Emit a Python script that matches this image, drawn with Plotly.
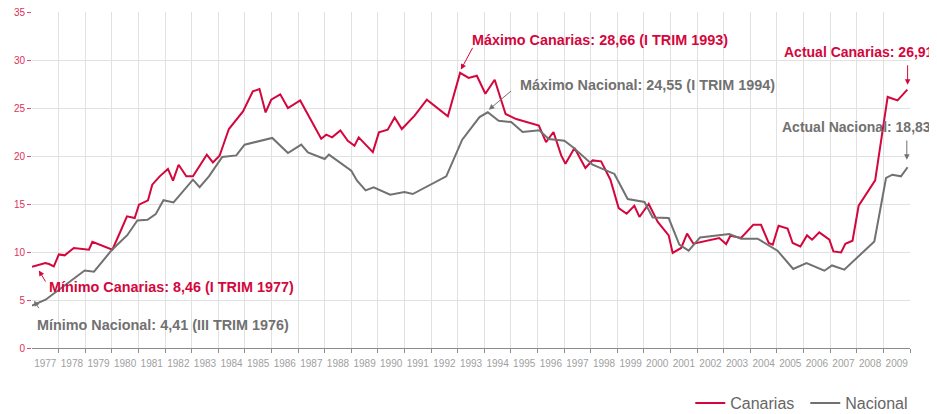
import plotly.graph_objects as go

# ---- data (decimal year, value in %) ----
canarias_t = [1977.00, 1977.29, 1977.50, 1977.64, 1977.82, 1978.01, 1978.23, 1978.57, 1978.88, 1979.14,
              1979.27, 1980.02, 1980.27, 1980.57, 1980.86, 1981.02, 1981.36, 1981.52, 1981.80, 1982.11,
              1982.30, 1982.51, 1982.80, 1983.05, 1983.57, 1983.80, 1984.05, 1984.40, 1984.93, 1985.30,
              1985.55, 1985.78, 1985.99, 1986.33, 1986.62, 1987.08, 1987.87, 1988.06, 1988.28, 1988.59,
              1988.87, 1989.12, 1989.28, 1989.81, 1990.04, 1990.37, 1990.63, 1990.90, 1991.38, 1991.84,
              1992.63, 1993.09, 1993.41, 1993.72, 1994.04, 1994.39, 1994.80, 1995.20, 1996.05, 1996.32,
              1996.60, 1996.89, 1997.05, 1997.39, 1997.80, 1998.07, 1998.39, 1998.74, 1999.05, 1999.35,
              1999.64, 1999.83, 2000.18, 2000.52, 2000.93, 2001.08, 2001.40, 2001.62, 2001.86, 2002.83,
              2003.09, 2003.25, 2003.65, 2004.11, 2004.40, 2004.69, 2004.84, 2005.06, 2005.40, 2005.59,
              2005.88, 2006.13, 2006.32, 2006.59, 2006.97, 2007.12, 2007.41, 2007.57, 2007.84, 2008.07,
              2008.69, 2009.16, 2009.53, 2009.90]
canarias_v = [8.46, 8.65, 8.85, 8.75, 8.50, 9.75, 9.65, 10.42, 10.31, 10.24,
              11.07, 10.24, 11.80, 13.71, 13.54, 14.93, 15.38, 17.01, 17.88, 18.65,
              17.43, 19.09, 17.88, 17.88, 20.14, 19.33, 20.03, 22.81, 24.65, 26.73,
              26.98, 24.54, 25.86, 26.42, 25.00, 25.79, 21.80, 22.22, 21.94, 22.67,
              21.59, 21.07, 21.94, 20.40, 22.46, 22.74, 24.02, 22.81, 24.20, 25.86,
              24.13, 28.66, 28.13, 28.36, 26.49, 27.95, 24.38, 23.85, 23.16, 21.44,
              22.50, 20.06, 19.20, 20.83, 18.75, 19.54, 19.44, 17.53, 14.58, 13.99,
              14.82, 13.65, 15.00, 13.13, 11.73, 9.90, 10.42, 11.91, 10.86, 11.46,
              10.83, 11.70, 11.46, 12.84, 12.84, 10.94, 10.76, 12.74, 12.43, 10.94,
              10.58, 11.73, 11.28, 12.04, 11.28, 10.06, 9.96, 10.86, 11.18, 14.82,
              17.46, 26.15, 25.79, 26.91]

nacional_t = [1977.00, 1977.51, 1978.98, 1979.33, 1980.00, 1980.58, 1980.96, 1981.34, 1981.65, 1981.94,
              1982.32, 1983.05, 1983.30, 1983.65, 1984.15, 1984.68, 1984.99, 1985.55, 1986.03, 1986.62,
              1987.12, 1987.37, 1988.00, 1988.16, 1989.00, 1989.21, 1989.54, 1989.84, 1990.46, 1991.00,
              1991.31, 1992.57, 1993.17, 1993.82, 1994.13, 1994.54, 1995.01, 1995.44, 1996.07, 1996.42,
              1997.01, 1997.32, 1998.07, 1998.89, 1999.39, 2000.02, 2000.33, 2000.93, 2001.33, 2001.68,
              2002.11, 2003.21, 2003.65, 2004.27, 2005.02, 2005.61, 2006.11, 2006.78, 2007.07, 2007.53,
              2008.66, 2009.10, 2009.34, 2009.66, 2009.91]
nacional_v = [4.41, 5.03, 8.08, 7.95, 10.21, 11.75, 13.29, 13.36, 13.94, 15.40,
              15.17, 17.53, 16.75, 17.88, 19.90, 20.06, 21.18, 21.52, 21.88, 20.31,
              21.18, 20.38, 19.69, 20.14, 18.47, 17.46, 16.42, 16.73, 15.97, 16.25,
              16.04, 17.88, 21.70, 24.06, 24.55, 23.68, 23.54, 22.50, 22.69, 21.77,
              21.59, 20.94, 19.09, 18.13, 15.52, 15.21, 13.60, 13.54, 10.76, 10.14,
              11.52, 11.88, 11.39, 11.39, 10.14, 8.23, 8.85, 8.05, 8.60, 8.16,
              11.10, 17.71, 18.05, 17.88, 18.83]

years = list(range(1977, 2010))
year_labels = [str(y) for y in years]
y_ticks = [0, 5, 10, 15, 20, 25, 30, 35]

RED = "#d3073d"
GRAY = "#717171"
FONT = "Liberation Sans, Arial, sans-serif"

fig = go.Figure()
fig.add_trace(go.Scatter(x=canarias_t, y=canarias_v, mode="lines", name="Canarias",
                         line=dict(color=RED, width=2)))
fig.add_trace(go.Scatter(x=nacional_t, y=nacional_v, mode="lines", name="Nacional",
                         line=dict(color=GRAY, width=2)))

def label(x, y, text, color, size=14.4):
    fig.add_annotation(x=x, y=y, xref="x", yref="y", text="<b>%s</b>" % text,
                       showarrow=False, xanchor="left", yanchor="middle",
                       font=dict(family=FONT, size=size, color=color))

def arrow(x, y, ax, ay, color):
    fig.add_annotation(x=x, y=y, ax=ax, ay=ay, xref="x", yref="y", axref="x", ayref="y",
                       text="", showarrow=True, arrowhead=2, arrowsize=1.1, arrowwidth=1,
                       arrowcolor=color)

label(1993.46, 32.06, "Máximo Canarias: 28,66 (I TRIM 1993)", RED)
arrow(1993.12, 29.0, 1993.59, 31.42, RED)
label(1995.25, 27.43, "Máximo Nacional: 24,55 (I TRIM 1994)", GRAY)
arrow(1994.17, 24.82, 1995.06, 26.9, GRAY)
label(2005.20, 30.83, "Actual Canarias: 26,91", RED, 14)
arrow(2009.91, 27.43, 2009.91, 29.6, RED)
label(2005.13, 22.98, "Actual Nacional: 18,83", GRAY, 14)
arrow(2009.88, 19.61, 2009.88, 21.77, GRAY)
label(1977.57, 6.35, "Mínimo Canarias: 8,46 (I TRIM 1977)", RED)
arrow(1977.26, 8.08, 1977.54, 6.77, RED)
label(1977.13, 2.43, "Mínimo Nacional: 4,41 (III TRIM 1976)", GRAY)
arrow(1977.08, 4.93, 1977.29, 3.99, GRAY)

fig.update_layout(
    width=929, height=406,
    margin=dict(l=24, r=27, t=4, b=66, autoexpand=False),
    paper_bgcolor="white", plot_bgcolor="white",
    font=dict(family=FONT),
    showlegend=True,
    legend=dict(orientation="h", xanchor="right", x=1.0117, yanchor="middle", y=-0.164,
                font=dict(family=FONT, size=16, color="#666666"),
                itemwidth=30, entrywidth=70, traceorder="normal", bgcolor="rgba(0,0,0,0)"),
    xaxis=dict(range=[1977, 2010], tickmode="array", automargin=False,
               tickvals=[y + 0.5 for y in years], ticktext=year_labels,
               showgrid=False, ticks="outside", ticklen=6, tickcolor="rgba(0,0,0,0)",
               zeroline=False,
               tickfont=dict(family=FONT, size=10, color="#a0a0a0"),
               showline=True, linecolor="#8c8c8c", linewidth=1,
               minor=dict(tickmode="array", tickvals=list(range(1978, 2011)),
                          showgrid=True, gridcolor="#e1e1e1", gridwidth=1,
                          ticks="outside", ticklen=4, tickcolor="#8c8c8c")),
    yaxis=dict(range=[0, 35], tickmode="array", tickvals=y_ticks, automargin=False,
               ticklabeloverflow="allow",
               showgrid=True, gridcolor="#e1e1e1", gridwidth=1, zeroline=False,
               ticks="outside", ticklen=4, tickcolor="#e2496f",
               tickfont=dict(family=FONT, size=10, color="#e0305c"),
               showline=False),
)

fig.write_html("out.html")
